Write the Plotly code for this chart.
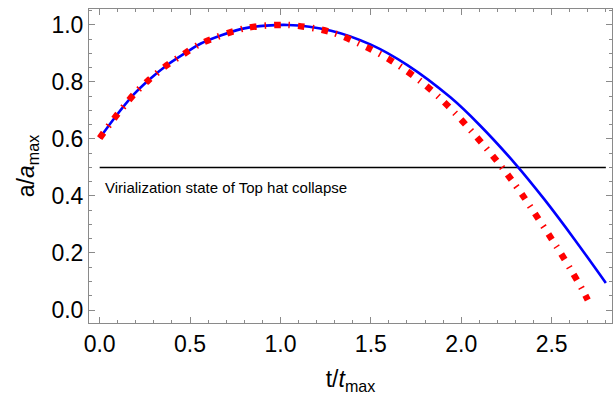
import plotly.graph_objects as go

# Blue solid curve
blue_t = [0, 0.08, 0.19, 0.27, 0.37, 0.47, 0.56, 0.80, 1.04, 1.28, 1.50, 1.70, 1.94, 2.10, 2.30, 2.46, 2.63, 2.80]
blue_a = [0.603, 0.672, 0.757, 0.806, 0.858, 0.900, 0.935, 0.988, 1.000, 0.980, 0.931, 0.860, 0.746, 0.650, 0.512, 0.388, 0.245, 0.095]

# Red dot-dashed curve
red_t = [0, 0.08, 0.19, 0.27, 0.37, 0.47, 0.56, 0.80, 1.04, 1.28, 1.49, 1.60, 1.70, 1.80, 1.88, 1.97, 2.05, 2.13, 2.21, 2.28, 2.35, 2.55, 2.61, 2.67, 2.70]
red_a = [0.603, 0.672, 0.757, 0.806, 0.858, 0.900, 0.935, 0.988, 1.000, 0.975, 0.918, 0.880, 0.838, 0.790, 0.745, 0.688, 0.632, 0.574, 0.513, 0.455, 0.393, 0.200, 0.137, 0.072, 0.035]

# Virialization level line
vir_t = [0, 2.8]
vir_a = [0.5, 0.5]
vir_label = "Virialization state of Top hat collapse"

x_ticks = [0.0, 0.5, 1.0, 1.5, 2.0, 2.5]
y_ticks = [0.0, 0.2, 0.4, 0.6, 0.8, 1.0]

FONT = "Liberation Sans, Arial, sans-serif"

fig = go.Figure()
fig.add_trace(go.Scatter(x=vir_t, y=vir_a, mode="lines",
                         line=dict(color="black", width=1.6), hoverinfo="skip"))
fig.add_trace(go.Scatter(x=blue_t, y=blue_a, mode="lines",
                         line=dict(color="#0000ff", width=2.6, shape="spline", smoothing=0.8)))
fig.add_trace(go.Scatter(x=red_t, y=red_a, mode="lines",
                         line=dict(color="#ff0000", width=6.5, shape="spline", smoothing=0.8,
                                   dash="6.5px,8px,1.5px,8px")))

fig.add_annotation(x=0.02, y=0.43, xref="x", yref="y", text=vir_label,
                   showarrow=False, xanchor="left", yanchor="middle",
                   font=dict(family=FONT, size=15, color="black"))

axis_common = dict(showline=True, linecolor="#8a8a8a", linewidth=1, mirror="allticks",
                   ticks="inside", tickcolor="#8a8a8a", ticklen=6, tickwidth=1,
                   showgrid=False, zeroline=False,
                   tickfont=dict(family=FONT, size=23, color="black"),
                   tickformat=".1f")

fig.update_layout(
    width=615, height=400,
    margin=dict(l=89, r=3, t=9, b=77),
    paper_bgcolor="white", plot_bgcolor="white",
    showlegend=False,
    xaxis=dict(range=[-0.059, 2.834], tickvals=x_ticks,
               minor=dict(dtick=0.1, tick0=0, ticks="inside", ticklen=3, tickcolor="#8a8a8a"),
               title=dict(text="t/<i>t</i><sub>max</sub>", font=dict(family=FONT, size=23, color="black"), standoff=15),
               **axis_common),
    yaxis=dict(range=[-0.0456, 1.056], tickvals=y_ticks,
               minor=dict(dtick=0.05, tick0=0, ticks="inside", ticklen=3, tickcolor="#8a8a8a"),
               title=dict(text="a/<i>a</i><sub>max</sub>", font=dict(family=FONT, size=23, color="black"), standoff=10),
               **axis_common),
)

fig.write_html("out.html")
